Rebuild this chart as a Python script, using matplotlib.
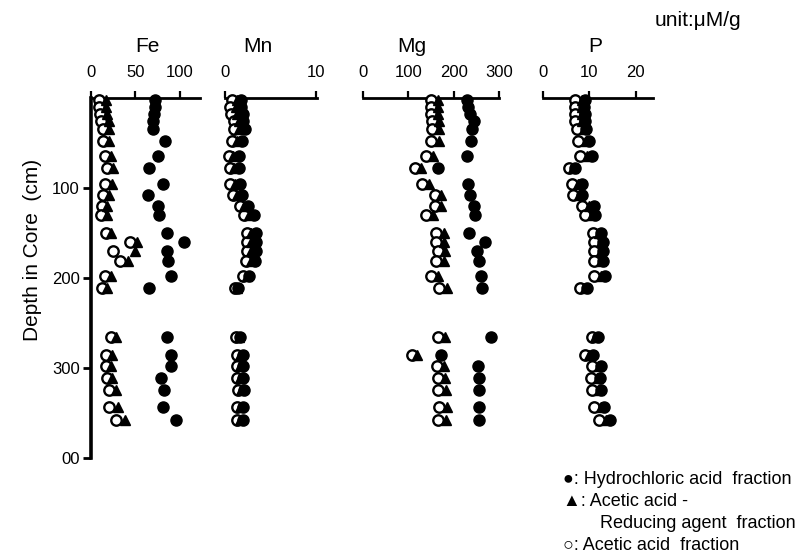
import numpy as np
import matplotlib.pyplot as plt

plt.rcParams['font.family'] = ['Liberation Sans', 'DejaVu Sans']

# sample depths (cm)
depth = [2, 10, 18, 26, 35, 48, 64, 78, 96, 108, 120, 130, 150, 160, 170, 181,
         198, 211, 265, 285, 298, 311, 324, 343, 358]

# uM/g ; acetic acid / acetic acid-reducing agent / hydrochloric acid fractions
fe_ac = [9, 9, 10, 11, 13, 13, 16, 18, 16, 13, 12, 11, 17, 44, 25, 33,
         16, 12, 22, 17, 17, 18, 20, 20, 28]
fe_red = [17, 17, 18, 20, 20, 20, 22, 25, 24, 20, 18, 18, 22, 52, 49, 42,
          22, 18, 28, 24, 23, 24, 28, 30, 38]
fe_hcl = [72, 72, 71, 70, 70, 83, 75, 65, 81, 64, 75, 76, 85, 105, 85, 86,
          90, 65, 85, 90, 90, 79, 82, 81, 96]

mn_ac = [0.8, 0.6, 0.7, 1.0, 1.0, 0.8, 0.4, 0.5, 0.6, 0.9, 1.6, 2.1, 2.4, 2.4,
         2.4, 2.3, 2.0, 1.1, 1.2, 1.3, 1.3, 1.3, 1.4, 1.3, 1.3]
mn_red = [1.3, 1.2, 1.3, 1.5, 1.5, 1.3, 0.9, 1.0, 1.1, 1.3, 2.1, 2.6, 2.9, 2.9,
          2.9, 2.8, 2.4, 1.3, 1.5, 1.7, 1.7, 1.7, 1.8, 1.7, 1.7]
mn_hcl = [1.8, 1.8, 2.0, 2.0, 2.2, 1.9, 1.5, 1.5, 1.6, 1.9, 2.5, 3.2, 3.4, 3.4,
          3.4, 3.3, 2.6, 1.4, 1.6, 2.0, 2.0, 2.0, 2.1, 2.0, 2.0]

mg_ac = [150, 150, 150, 152, 152, 150, 140, 115, 130, 158, 158, 140, 160, 160,
         165, 162, 150, 168, 165, 108, 163, 165, 165, 168, 165]
mg_red = [165, 165, 165, 167, 168, 168, 155, 128, 145, 172, 172, 155, 178, 178,
          180, 178, 165, 185, 180, 120, 178, 180, 182, 185, 182]
mg_hcl = [230, 232, 235, 245, 240, 238, 230, 165, 232, 235, 245, 248, 233, 270,
          251, 255, 260, 263, 282, 171, 253, 255, 255, 255, 255]

p_ac = [7.0, 6.8, 7.0, 7.0, 7.3, 7.5, 8.0, 5.5, 6.3, 6.5, 8.5, 9.0, 10.8, 11.0,
        11.0, 11.0, 11.0, 8.0, 10.5, 9.0, 10.5, 10.3, 10.5, 11.0, 12.0]
p_red = [8.5, 8.3, 8.5, 8.5, 8.8, 9.2, 9.5, 6.5, 7.5, 7.8, 10.0, 10.5, 12.0, 12.5,
         12.5, 12.5, 12.5, 9.0, 11.2, 10.0, 12.0, 11.8, 12.0, 12.5, 13.5]
p_hcl = [9.0, 8.8, 9.0, 9.0, 9.3, 10.0, 10.5, 7.0, 8.5, 8.5, 11.0, 11.3, 12.5, 13.0,
         13.0, 13.0, 13.3, 9.5, 11.8, 10.8, 12.5, 12.3, 12.5, 13.2, 14.5]

W, H = 812, 560
fig = plt.figure(figsize=(W / 100, H / 100), dpi=100)
fig.patch.set_facecolor('white')

ytop, ybot = 98, 458   # pixel rows of depth 0 and 400


def add_px_axes(x0, x1):
    return fig.add_axes([x0 / W, (H - ybot) / H, (x1 - x0) / W, (ybot - ytop) / H])


# depth axis
ax0 = add_px_axes(91, 200)
ax0.set_ylim(400, 0)
ax0.patch.set_visible(False)
for s in ['top', 'right', 'bottom']:
    ax0.spines[s].set_visible(False)
ax0.spines['left'].set_linewidth(2.6)
ax0.set_xticks([])
ax0.set_yticks([100, 200, 300, 400])
ax0.set_yticklabels(['100', '200', '300', '00'], fontsize=12)
ax0.tick_params(axis='y', length=6, width=2, pad=2)
fig.text(33 / W, 1 - 250 / H, 'Depth in Core  (cm)', fontsize=15, rotation=90,
         ha='center', va='center')

panels = [
    ('Fe', 91, 122.5, [0, 50, 100], ['0', '50', '100'], fe_ac, fe_red, fe_hcl, 147),
    ('Mn', 225, 10.1, [0, 10], ['0', '10'], mn_ac, mn_red, mn_hcl, 258),
    ('Mg', 363, 300, [0, 100, 200, 300], ['0', '100', '200', '300'], mg_ac, mg_red, mg_hcl, 412),
    ('P', 543, 23.7, [0, 10, 20], ['0', '10', '20'], p_ac, p_red, p_hcl, 595),
]
right_px = {'Fe': 200, 'Mn': 317, 'Mg': 499, 'P': 653}

for name, x0, xmax, ticks, labels, ac, red, hcl, tx in panels:
    ax = add_px_axes(x0, right_px[name])
    ax.set_xlim(0, xmax)
    ax.set_ylim(400, 0)
    ax.patch.set_visible(False)
    for s in ['left', 'right', 'bottom']:
        ax.spines[s].set_visible(False)
    ax.spines['top'].set_linewidth(2.0)
    ax.set_yticks([])
    ax.xaxis.tick_top()
    ax.set_xticks(ticks)
    ax.set_xticklabels(labels, fontsize=12)
    ax.tick_params(axis='x', direction='out', length=5, width=1.6, pad=8)

    ax.plot(ac, depth, 'o', ms=7.5, mfc='white', mec='black', mew=1.7, clip_on=False, zorder=3)
    ax.plot(red, depth, '^', ms=7.5, color='black', clip_on=False, zorder=4)
    ax.plot(hcl, depth, 'o', ms=8, color='black', clip_on=False, zorder=5)

    fig.text(tx / W, 1 - 47 / H, name, fontsize=15, ha='center', va='center')

fig.text(655 / W, 1 - 20 / H, 'unit:\u03bcM/g', fontsize=15, ha='left', va='center')

# legend
fs = 13
fig.text(563 / W, 1 - 479 / H, '\u25cf: Hydrochloric acid  fraction', fontsize=fs, va='center')
fig.text(563 / W, 1 - 501 / H, '\u25b2: Acetic acid -', fontsize=fs, va='center')
fig.text(600 / W, 1 - 523 / H, 'Reducing agent  fraction', fontsize=fs, va='center')
fig.text(563 / W, 1 - 546 / H, '\u25cb: Acetic acid  fraction', fontsize=fs, va='center')

fig.savefig('out.png', dpi=100)
